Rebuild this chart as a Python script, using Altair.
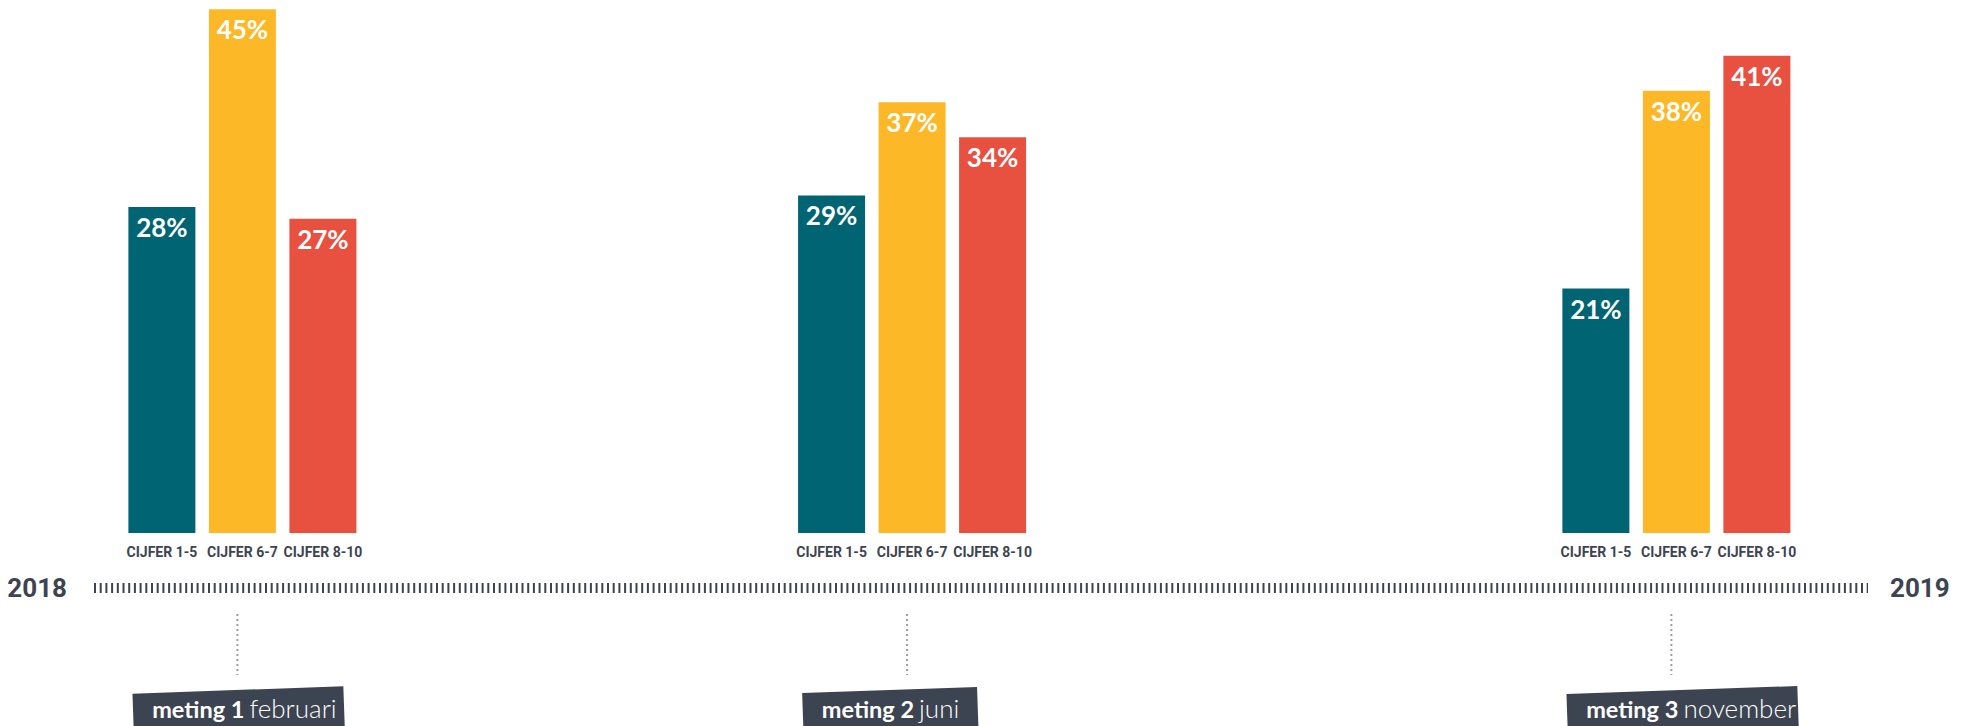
import altair as alt
import pandas as pd

# ---------------- data ----------------
metingen = ["meting 1", "meting 2", "meting 3"]
maand_namen = ["februari", "juni", "november"]
meting_maand = [0.97, 5.50, 10.67]          # months after 1 Jan 2018
categorieen = ["CIJFER 1-5", "CIJFER 6-7", "CIJFER 8-10"]
cijfer_1_5 = [28, 29, 21]
cijfer_6_7 = [45, 37, 38]
cijfer_8_10 = [27, 34, 41]
jaren = ["2018", "2019"]
jaar_maand = [0, 12]

# ---------------- layout / style ----------------
W = 1948
PLOT_H = 525
BOTTOM = 193
X_RANGE = [86, 1860]
PX_PER_MONTH = (X_RANGE[1] - X_RANGE[0]) / 12
BAR_STEP = 80.5
BAR_SHIFT = 5
BAR_W = 67
kleuren = ["#006472", "#FDB827", "#E85040"]
DARK = "#3D4451"
box_breedte = [211, 175, 231]
NARROW = "Roboto, 'DejaVu Sans Condensed', sans-serif"

series = [cijfer_1_5, cijfer_6_7, cijfer_8_10]
rows = []
for g, (m, pos) in enumerate(zip(metingen, meting_maand)):
    for k, (cat, vals) in enumerate(zip(categorieen, series)):
        rows.append(dict(meting=m, categorie=cat, waarde=vals[g], label=f"{vals[g]}%",
                         xc=pos + ((k - 1) * BAR_STEP + BAR_SHIFT) / PX_PER_MONTH))
bars_df = pd.DataFrame(rows)

meting_df = pd.DataFrame(dict(
    meting=metingen, maand=maand_namen, pos=meting_maand,
    box_x=[p + (b / 2 - 105) / PX_PER_MONTH for p, b in zip(meting_maand, box_breedte)],
    box_size=[b * b for b in box_breedte],
))
jaar_df = pd.DataFrame(dict(jaar=jaren, pos=jaar_maand))
lijn_df = pd.DataFrame(dict(start=[jaar_maand[0]], eind=[jaar_maand[1]]))

xs = alt.Scale(domain=[0, 12], range=X_RANGE, nice=False, zero=False, padding=0)
ys = alt.Scale(domain=[0, 45.1], nice=False, padding=0)

bars = alt.Chart(bars_df).mark_bar(size=BAR_W, orient="vertical").encode(
    x=alt.X("xc:Q", scale=xs, axis=None),
    y=alt.Y("waarde:Q", scale=ys, axis=None),
    color=alt.Color("categorie:N", scale=alt.Scale(domain=categorieen, range=kleuren), legend=None),
)

pct = alt.Chart(bars_df).mark_text(
    font="Lato", fontSize=26, fontWeight="bold", color="white", baseline="alphabetic", dy=30
).encode(
    x=alt.X("xc:Q", scale=xs, axis=None),
    y=alt.Y("waarde:Q", scale=ys, axis=None),
    text="label:N",
)

cat_lbl = alt.Chart(bars_df).mark_text(
    font=NARROW, fontSize=14, fontWeight="bold", color=DARK, baseline="alphabetic"
).encode(
    x=alt.X("xc:Q", scale=xs, axis=None),
    y=alt.value(549),
    text="categorie:N",
)

lijn = alt.Chart(lijn_df).mark_rule(strokeWidth=10, strokeDash=[2, 3.7], color=DARK).encode(
    x=alt.X("start:Q", scale=xs, axis=None), x2="eind:Q", y=alt.value(580)
)

jaar_l = alt.Chart(jaar_df).transform_filter(alt.datum.jaar == jaren[0]).mark_text(
    font=NARROW, fontSize=26, fontWeight="bold", color=DARK, align="right", dx=-27,
    baseline="alphabetic"
).encode(x=alt.X("pos:Q", scale=xs, axis=None), y=alt.value(589), text="jaar:N")

jaar_r = alt.Chart(jaar_df).transform_filter(alt.datum.jaar == jaren[1]).mark_text(
    font=NARROW, fontSize=26, fontWeight="bold", color=DARK, align="left", dx=22,
    baseline="alphabetic"
).encode(x=alt.X("pos:Q", scale=xs, axis=None), y=alt.value(589), text="jaar:N")

stippel = alt.Chart(meting_df).mark_rule(strokeDash=[2, 3], strokeWidth=2, color="#9B9EA3").encode(
    x=alt.X("pos:Q", scale=xs, axis=None), y=alt.value(606), y2=alt.value(667)
)

box = alt.Chart(meting_df).mark_point(
    shape="M-1,0 L1,0 L1,0.6 L-1,0.6 Z", filled=True, opacity=1, color=DARK,
    angle=358, strokeWidth=0
).encode(
    x=alt.X("box_x:Q", scale=xs, axis=None),
    y=alt.value(682),
    size=alt.Size("box_size:Q", scale=None, legend=None),
)

tekst_b = alt.Chart(meting_df).mark_text(
    font="Lato", fontSize=23.5, fontWeight="bold", color="white", align="right", dx=7,
    baseline="alphabetic"
).encode(x=alt.X("pos:Q", scale=xs, axis=None), y=alt.value(710), text="meting:N")

tekst_l = alt.Chart(meting_df).mark_text(
    font="Lato", fontSize=26, fontWeight=300, color="white", align="left", dx=12,
    baseline="alphabetic"
).encode(x=alt.X("pos:Q", scale=xs, axis=None), y=alt.value(710), text="maand:N")

chart = alt.layer(
    bars, pct, cat_lbl, lijn, jaar_l, jaar_r, stippel, box, tekst_b, tekst_l
).properties(
    width=W, height=PLOT_H,
    autosize=alt.AutoSizeParams(type="none"),
    padding={"left": 0, "top": 0, "right": 0, "bottom": BOTTOM},
    background="white",
).configure_view(stroke=None)

chart.save("out.html", embed_options={"renderer": "svg", "actions": False})
